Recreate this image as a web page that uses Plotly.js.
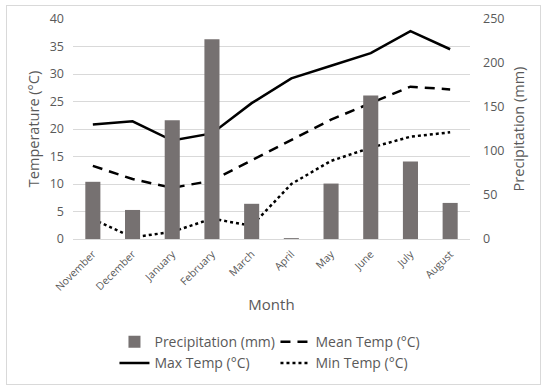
<!DOCTYPE html>
<html>
<head>
<meta charset="utf-8">
<script src="https://cdn.plot.ly/plotly-3.0.1.min.js"></script>
<style>
html,body{margin:0;padding:0;background:#fff;}
#wrap{position:relative;width:550px;height:390px;}
#chart{width:550px;height:390px;}
#frame{position:absolute;left:6px;top:5px;width:533px;height:378px;border:1px solid #d9d9d9;pointer-events:none;}
</style>
</head>
<body>
<div id="wrap"><div id="chart"></div><div id="frame"></div></div>
<script>
const months = ["November","December","January","February","March","April","May","June","July","August"];
const precipitation = [65, 33, 135, 227, 40, 1, 63, 163, 88, 41];
const meanTemp = [13.3, 10.9, 9.3, 10.6, 14.3, 18.0, 21.7, 24.7, 27.7, 27.2];
const maxTemp = [20.8, 21.4, 17.9, 19.2, 24.7, 29.2, 31.5, 33.8, 37.8, 34.5];
const minTemp = [3.6, 0.3, 1.3, 3.7, 2.4, 10.0, 14.2, 16.6, 18.6, 19.4];

const font = "Open Sans, Liberation Sans, sans-serif";
const grey = "#595959";

const traces = [
  {type:"bar", name:"Precipitation (mm)", x:months, y:precipitation, yaxis:"y2",
   marker:{color:"#767171"}, width:0.38},
  {type:"scatter", mode:"lines", name:"Mean Temp (°C)", x:months, y:meanTemp,
   line:{color:"#000", width:2.5, dash:"10px,7px"}},
  {type:"scatter", mode:"lines", name:"Max Temp (°C)", x:months, y:maxTemp,
   line:{color:"#000", width:2.5}},
  {type:"scatter", mode:"lines", name:"Min Temp (°C)", x:months, y:minTemp,
   line:{color:"#000", width:2.5, dash:"dot"}}
];

const layout = {
  width:550, height:390,
  margin:{l:73, r:80, t:19, b:150},
  paper_bgcolor:"#fff", plot_bgcolor:"#fff",
  font:{family:font, color:grey},
  showlegend:true,
  legend:{orientation:"h", x:0.51, xanchor:"center", y:-0.39, yanchor:"top",
    entrywidth:116, entrywidthmode:"pixels", traceorder:"normal",
    font:{size:14, color:grey}, itemwidth:30, tracegroupgap:0},
  xaxis:{type:"category", tickangle:-45, tickfont:{size:10.5, color:grey},
    showgrid:false, showline:true, linecolor:"#d9d9d9", ticks:"", ticklabelstandoff:4,
    title:{text:"Month", font:{size:15, color:grey}, standoff:6}},
  yaxis:{range:[0,40], dtick:5, showgrid:true, gridcolor:"#d9d9d9", zeroline:false,
    tickfont:{size:12.5, color:grey}, ticks:"", ticklabelstandoff:8,
    title:{text:"Temperature (°C)", font:{size:14.5, color:grey}, standoff:6}},
  yaxis2:{range:[0,250], dtick:50, overlaying:"y", side:"right", showgrid:false, zeroline:false,
    tickfont:{size:12.5, color:grey}, ticks:"", ticklabelstandoff:12,
    title:{text:"Precipitation (mm)", font:{size:14.5, color:grey}, standoff:10}},
  bargap:0.6
};

Plotly.newPlot("chart", traces, layout, {displayModeBar:false, staticPlot:true});
</script>
</body>
</html>
